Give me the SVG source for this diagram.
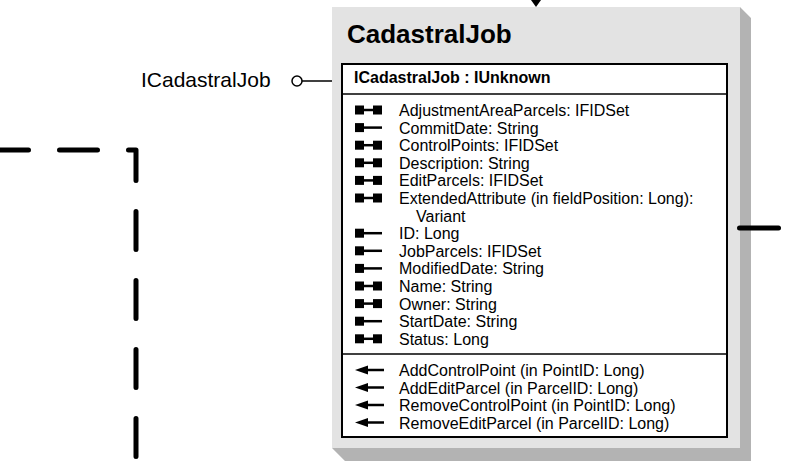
<svg xmlns="http://www.w3.org/2000/svg" width="785" height="466" viewBox="0 0 785 466">
<style>
text { font-family: "Liberation Sans", Arial, sans-serif; fill: #000; }
.m { font-size: 16px; }
.hdr { font-size: 16px; font-weight: bold; }
.title { font-size: 26px; font-weight: bold; }
.lbl { font-size: 21px; }
.conn { fill: none; stroke: #000; stroke-width: 5; stroke-linecap: round; stroke-linejoin: round; }
.sq { fill: #000; }
.ln { stroke: #000; stroke-width: 2.5; }
</style>
<defs>
<g id="rw">
<rect class="sq" x="355" y="-4.5" width="9" height="9"/>
<line class="ln" x1="364" y1="0" x2="382" y2="0"/>
</g>
<g id="rwb">
<rect class="sq" x="355" y="-4.5" width="9" height="9"/>
<line class="ln" x1="364" y1="0" x2="373" y2="0"/>
<rect class="sq" x="373" y="-4.5" width="9" height="9"/>
</g>
<g id="meth">
<polygon class="sq" points="355,0 368,-4.5 368,4.5"/>
<line class="ln" x1="366" y1="0" x2="384" y2="0"/>
</g>
</defs>
<g id="ICadastralJob-lollipop">
<line x1="302" y1="81" x2="342" y2="81" stroke="#000" stroke-width="1.5"/>
<circle cx="297" cy="81" r="5" fill="#fff" stroke="#000" stroke-width="1.5"/>
<text class="lbl" x="141" y="87">ICadastralJob</text>
</g>
<g id="CadastralJob">
<polygon points="740,7 751,18 751,461 345,461 332,448 740,448" fill="#b3b3b3"/>
<rect x="332" y="7" width="408" height="441" fill="#e3e3e3"/>
<text class="title" x="347" y="43">CadastralJob</text>
<rect x="342" y="64" width="385" height="373" fill="#fff" stroke="#000" stroke-width="2"/>
<line x1="342" y1="94" x2="727" y2="94" stroke="#000" stroke-width="1.5"/>
<line x1="342" y1="354" x2="727" y2="354" stroke="#000" stroke-width="1.5"/>
<text class="hdr" x="354" y="83">ICadastralJob : IUnknown</text>
<use href="#rwb" y="110"/><text class="m" x="399" y="116">AdjustmentAreaParcels: IFIDSet</text>
<use href="#rw" y="127.6"/><text class="m" x="399" y="133.6">CommitDate: String</text>
<use href="#rwb" y="145.2"/><text class="m" x="399" y="151.2">ControlPoints: IFIDSet</text>
<use href="#rwb" y="162.8"/><text class="m" x="399" y="168.8">Description: String</text>
<use href="#rwb" y="180.4"/><text class="m" x="399" y="186.4">EditParcels: IFIDSet</text>
<use href="#rwb" y="198"/><text class="m" x="399" y="204">ExtendedAttribute (in fieldPosition: Long):</text>
<text class="m" x="416" y="221.6">Variant</text>
<use href="#rw" y="233.2"/><text class="m" x="399" y="239.2">ID: Long</text>
<use href="#rw" y="250.8"/><text class="m" x="399" y="256.8">JobParcels: IFIDSet</text>
<use href="#rw" y="268.4"/><text class="m" x="399" y="274.4">ModifiedDate: String</text>
<use href="#rwb" y="286"/><text class="m" x="399" y="292">Name: String</text>
<use href="#rwb" y="303.6"/><text class="m" x="399" y="309.6">Owner: String</text>
<use href="#rw" y="321.2"/><text class="m" x="399" y="327.2">StartDate: String</text>
<use href="#rwb" y="338.8"/><text class="m" x="399" y="344.8">Status: Long</text>
<use href="#meth" y="370"/><text class="m" x="399" y="376">AddControlPoint (in PointID: Long)</text>
<use href="#meth" y="387.5"/><text class="m" x="399" y="393.5">AddEditParcel (in ParcelID: Long)</text>
<use href="#meth" y="405"/><text class="m" x="399" y="411">RemoveControlPoint (in PointID: Long)</text>
<use href="#meth" y="422.5"/><text class="m" x="399" y="428.5">RemoveEditParcel (in ParcelID: Long)</text>
</g>
<g id="connectors">
<path class="conn" d="M-20,150 L136,150 L136,470" stroke-dasharray="38 31" stroke-dashoffset="58.5"/>
<line class="conn" x1="739.5" y1="228" x2="778.5" y2="228"/>
<polygon points="531,0 541,0 536,7" fill="#000"/>
</g>
</svg>
